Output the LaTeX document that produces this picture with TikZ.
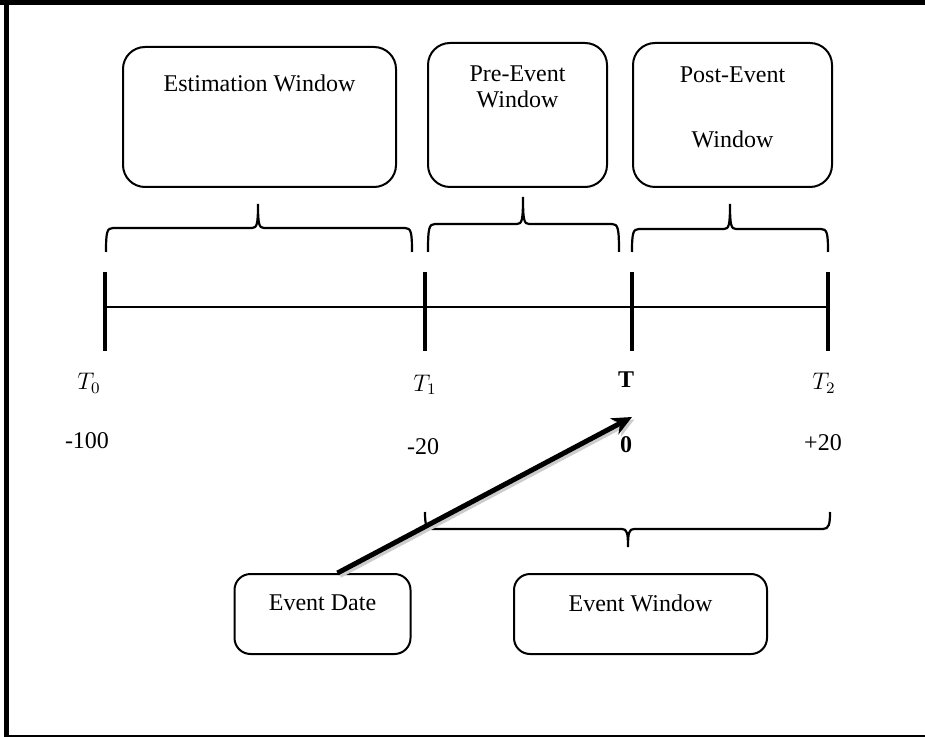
\documentclass[tikz,border=0pt,12pt]{standalone}
\usepackage{fontspec}
\setmainfont{Liberation Serif}
\usetikzlibrary{positioning,calc,arrows.meta}
\tikzset{win/.style={draw,rounded corners=11pt,line width=1pt},
  evbox/.style={draw,rounded corners=8pt,line width=1pt},
  brc/.style={line width=1.1pt},
  tickmark/.style={line width=2pt}}

\begin{document}
\begin{tikzpicture}[x=0.5pt,y=-0.5pt,>={Stealth[length=10pt,width=9pt]}]
    \useasboundingbox (0,0) rectangle (925,737);
    % frame
    \draw[line width=2.5pt] (6.5,0) -- (6.5,737);
    \draw[line width=2.5pt] (0,2.5) -- (925,2.5);
    \draw[line width=1pt] (5,735.5) -- (925,735.5);

    % window boxes
    \node[win,minimum width=136.5pt,minimum height=70pt] (est) at (259.5,117) {};
    \node[win,minimum width=89.5pt,minimum height=72pt] (pre) at (517.5,115) {};
    \node[win,minimum width=99.5pt,minimum height=72pt] (post) at (732.5,115) {};
    \node[evbox,minimum width=88pt,minimum height=40pt] (date) at (322.5,614) {};
    \node[evbox,minimum width=126.5pt,minimum height=40pt] (evwin) at (640.5,614) {};

    \node (estlbl) at ([yshift=-18.5pt]est.north) {Estimation Window};
    \node[align=center,inner sep=0pt] (prelbl) at ([yshift=-22.5pt]pre.north) {Pre-Event\\[-1.5pt]Window};
    \node[align=center,inner sep=0pt] (postlbl) at ([yshift=-32.5pt]post.north) {Post-Event\\[18pt]Window};
    \node (datelbl) at ([yshift=-15pt]date.north) {Event Date};
    \node (evwinlbl) at ([yshift=-15pt]evwin.north) {Event Window};

    % braces over the line
    \foreach \a/\b/\m/\h/\t in {106/412/258/228/204, 428/619/523/224/197, 632/828/730/229/204}
        \draw[brc] (\a,252) .. controls (\a,\h+4) and (\a+1,\h) .. (\a+7,\h) -- (\m-6,\h)
            .. controls (\m-1,\h) and (\m,\h-4) .. (\m,\t)
            .. controls (\m,\h-4) and (\m+1,\h) .. (\m+6,\h) -- (\b-7,\h)
            .. controls (\b-1,\h) and (\b,\h+4) .. (\b,252);
    % brace under the line
    \draw[brc] (425,512) .. controls (425,524) and (426,529) .. (432,529) -- (622,529)
        .. controls (627,529) and (628,533) .. (628,547)
        .. controls (628,533) and (629,529) .. (634,529) -- (823,529)
        .. controls (829,529) and (830,524) .. (830,512);

    % time line
    \coordinate (t0) at (105,307);
    \coordinate (t1) at (425,307);
    \coordinate (tt) at (632,307);
    \coordinate (t2) at (828,307);
    \draw[line width=1pt] (t0) -- (t2);
    \foreach \p in {t0,t1,tt,t2}
        \draw[tickmark] ([yshift=17.5pt]\p) -- ([yshift=-22pt]\p);

    \node (lt0) at (89,383) {$T_0$};
    \node (lt1) at (425,385) {$T_1$};
    \node (ltt) at (626,380) {\textbf{T}};
    \node (lt2) at (824,383) {$T_2$};
    \node (n0) at (87,441) {-100};
    \node (n1) at (423,447) {-20};
    \node (ntt) at (626,445) {\textbf{0}};
    \node (n2) at (823,443) {+20};

    % event date arrow
    \coordinate (tip) at (632,417);
    \draw[->,line width=2.5pt,black!20] ([shift={(1.2pt,-1.2pt)}]date.north) ++(7.5pt,0) -- ([shift={(1.2pt,-1.2pt)}]tip);
    \draw[->,line width=2.5pt] ([xshift=7.5pt]date.north) -- (tip);
\end{tikzpicture}
\end{document}
